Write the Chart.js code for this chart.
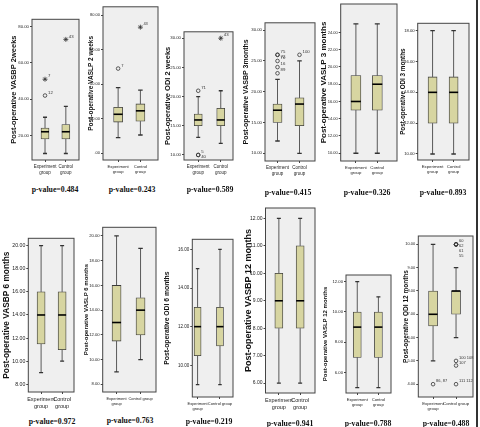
<!DOCTYPE html>
<html>
<head>
<meta charset="utf-8">
<script src="https://cdn.jsdelivr.net/npm/chart.js@4/dist/chart.umd.min.js"></script>
<style>
body { margin: 0; background: #fff; width: 480px; height: 427px; position: relative; overflow: hidden; }
.panel { position: absolute; }
.pv { position: absolute; transform: translate(-50%, -50%); white-space: nowrap; color: #111;
      font: bold 7.8px "Liberation Serif", "Times New Roman", serif; }
#edge { position: absolute; left: 476px; top: 0; width: 1.5px; height: 427px; background: #333; }
</style>
</head>
<body>
<div id="edge"></div>
<script>
// groups on the x axis of every panel
const groups = ['Experiment group', 'Control group'];

const measures = [
    'Post-operative VASBP 2weeks', 'Post-operative VASLP 2 weeks', 'Post-operative ODI 2 weeks',
    'Post-operative VASBP 3months', 'Post-operative VASLP 3 months', 'Post-operative ODI 3 months',
    'Post-operative VASBP 6 months', 'Post-operative VASLP 6 months', 'Post-operative ODI 6 months',
    'Post-operative VASBP 12 months', 'Post-operative VASLP 12 months', 'Post-operative ODI 12 months'
];

const pValues = ['0.484', '0.243', '0.589', '0.415', '0.326', '0.893',
                 '0.972', '0.763', '0.219', '0.941', '0.788', '0.488'];

const yTickValues = [
    [20, 40, 60, 80], [0, 20, 40, 60, 80], [10, 15, 20, 25, 30],
    [10, 15, 20, 25, 30], [10, 12, 14, 16, 18, 20, 22, 24], [10, 12, 14, 16, 18],
    [8, 10, 12, 14, 16, 18, 20], [8, 10, 12, 14, 16, 18, 20], [10, 12, 14, 16],
    [6, 7, 8, 9, 10, 11, 12], [6, 8, 10, 12], [4, 5, 6, 7, 8, 9, 10]
];

// [min, Q1, median, Q3, max]
const expBox = [
    [10, 18, 22, 24, 30], [9, 18, 22.5, 26.5, 38], [13, 15, 16, 17, 20],
    [12, 15, 17, 18, 22], [10, 15, 16, 19, 25], [10, 12, 14, 15, 18],
    [9, 11.5, 14, 16, 20], [9, 11.5, 13, 16, 20], [9, 10.5, 12, 13, 15],
    [6, 8, 9, 10, 12], [5, 7, 9, 10, 12], [5, 6.5, 7, 8, 10]
];
const ctlBox = [
    [10, 18, 22, 26, 36], [10.5, 18.5, 24.5, 28.5, 36.5], [12, 15, 16, 18, 21],
    [10, 14.5, 18, 19, 25], [10, 15, 18, 19, 25], [10, 12, 14, 15, 18],
    [10, 11, 14, 16, 20], [10, 12, 14, 15, 19], [9, 11, 12, 13, 16],
    [6, 8, 9, 11, 12], [5, 7, 9, 10, 11], [6, 7, 8, 8, 9]
];

// outliers: [value, marker, case number]
const expOutliers = [
    [[51, '*', '7'], [42, 'o', '12']], [[49, 'o', '7']], [[21, 'o', '71'], [10, 'o', '5'], [10, 'o', '40']],
    [[26, 'o', '75'], [26, 'o', '72'], [25, 'o', '70'], [24, 'o', '16'], [23, 'o', '89']], [], [],
    [], [], [],
    [], [], [[4, 'o', '86, 87']]
];
const ctlOutliers = [
    [[73, '*', '43']], [[73, '*', '43']], [[30, '*', '43']],
    [[26, 'o', '100']], [], [],
    [], [], [],
    [], [], [[10, 'o', '60'], [10, 'o', '62'], [10, 'o', '61'], [10, 'o', '55'],
             [5, 'o', '100 108'], [4.8, 'o', '107'], [4, 'o', '111 112']]
];

// frame left, top, right, bottom, title x, y min, y max, group positions, font sizes
const layout = [
    { L: 32, T: 19.3, R: 79, B: 160, tx: 13, y0: 6.4, y1: 84.1, r: [0.277, 0.72], ts: 7.5, fs: 4.3, ls: 4.5, wrap: true },
    { L: 103, T: 6.7, R: 157.5, B: 160, tx: 91, y0: -4, y1: 84.8, r: [0.275, 0.68], ts: 6.5, fs: 4, ls: 4.2, wrap: true },
    { L: 184, T: 31.7, R: 232.7, B: 159.3, tx: 167, y0: 9.14, y1: 31.1, r: [0.29, 0.75], ts: 7.5, fs: 4.3, ls: 4.5, wrap: true },
    { L: 265, T: 22.7, R: 315, B: 161, tx: 246, y0: 8.75, y1: 31.2, r: [0.25, 0.69], ts: 7, fs: 4.3, ls: 4.5, wrap: true },
    { L: 340.7, T: 4, R: 396.7, B: 161, tx: 324, y0: 9.1, y1: 27.3, r: [0.27, 0.65], ts: 8, fs: 4, ls: 4.3, wrap: true },
    { L: 417.7, T: 23.3, R: 468.3, B: 160, tx: 403, y0: 9.61, y1: 18.48, r: [0.29, 0.70], ts: 6.3, fs: 4.2, ls: 4.3, wrap: true },
    { L: 28.3, T: 238.3, R: 74, B: 391.7, tx: 7, y0: 7.33, y1: 20.64, r: [0.28, 0.74], ts: 8.3, fs: 5.2, ls: 5.5, wrap: true },
    { L: 102.7, T: 227.3, R: 156, B: 391.7, tx: 87, y0: 7.38, y1: 20.7, r: [0.26, 0.71], ts: 6, fs: 4.2, ls: 4, wrap: false },
    { L: 192.3, T: 239.3, R: 232.7, B: 396.7, tx: 167, y0: 8.36, y1: 16.52, r: [0.13, 0.68], ts: 6.8, fs: 4.5, ls: 4, wrap: false },
    { L: 265.5, T: 208, R: 315, B: 392.7, tx: 248, y0: 5.64, y1: 12.38, r: [0.27, 0.70], ts: 9, fs: 5, ls: 5.5, wrap: true },
    { L: 346, T: 275, R: 391, B: 392.7, tx: 326, y0: 4.65, y1: 12.44, r: [0.25, 0.72], ts: 6, fs: 4.2, ls: 4.2, wrap: true },
    { L: 418.3, T: 236, R: 473, B: 396.7, tx: 406, y0: 3.45, y1: 10.36, r: [0.27, 0.69], ts: 6.5, fs: 4, ls: 4.3, wrap: false }
];

const pvPos = [[55, 189], [132, 189], [210, 189], [288, 192], [367, 192], [443, 192],
               [52, 421], [130, 420], [209, 421], [290, 423], [368, 423], [446, 423]];

const sansFont = "'Liberation Sans', Arial, sans-serif";
const narrowFont = "'Liberation Sans Narrow', 'Arial Narrow', 'Liberation Sans', sans-serif";

function fmtTick(v) {
    let s = Number(v).toFixed(2);
    return s.replace(/^0\./, '.').replace(/^-0\./, '-.');
}

const boxPlot = {
    id: 'boxPlot',
    beforeDraw(chart) {
        const {ctx, chartArea: a} = chart;
        ctx.save();
        ctx.fillStyle = '#efefef';
        ctx.fillRect(a.left, a.top, a.right - a.left, a.bottom - a.top);
        ctx.restore();
    },
    beforeDatasetsDraw(chart, args, opts) {
        const {ctx, scales: {x, y}} = chart;
        ctx.save();
        ctx.strokeStyle = '#333';
        opts.stats.forEach((s, i) => {
            const cx = x.getPixelForValue(i + 1);
            ctx.lineWidth = 0.8;
            ctx.beginPath();
            ctx.moveTo(cx, y.getPixelForValue(s[0]));
            ctx.lineTo(cx, y.getPixelForValue(s[1]));
            ctx.moveTo(cx, y.getPixelForValue(s[3]));
            ctx.lineTo(cx, y.getPixelForValue(s[4]));
            ctx.stroke();
            ctx.lineWidth = 1.3;
            ctx.beginPath();
            [s[0], s[4]].forEach(v => {
                const py = y.getPixelForValue(v);
                ctx.moveTo(cx - opts.cap, py);
                ctx.lineTo(cx + opts.cap, py);
            });
            ctx.stroke();
        });
        ctx.restore();
    },
    afterDatasetsDraw(chart, args, opts) {
        const {ctx, scales: {x, y}} = chart;
        ctx.save();
        // medians
        ctx.strokeStyle = '#000';
        ctx.lineWidth = 1.6;
        opts.stats.forEach((s, i) => {
            const cx = x.getPixelForValue(i + 1);
            const py = y.getPixelForValue(s[2]);
            ctx.beginPath();
            ctx.moveTo(cx - opts.half, py);
            ctx.lineTo(cx + opts.half, py);
            ctx.stroke();
        });
        // case labels next to outliers
        ctx.fillStyle = '#333';
        ctx.font = opts.fs + 'px ' + narrowFont;
        ctx.textBaseline = 'middle';
        opts.outliers.forEach((list, i) => {
            const cx = x.getPixelForValue(i + 1);
            const seen = {};
            list.forEach(o => {
                const n = seen[o[0]] || 0;
                seen[o[0]] = n + 1;
                ctx.fillText(o[2], cx + 3, y.getPixelForValue(o[0]) - 3 + n * 5);
            });
        });
        // plot frame
        const a = chart.chartArea;
        ctx.strokeStyle = '#444';
        ctx.lineWidth = 1;
        ctx.strokeRect(a.left, a.top, a.right - a.left, a.bottom - a.top);
        ctx.restore();
    }
};

function makePanel(i) {
    const p = layout[i];
    const xh = 20;
    const padR = 8;
    const left = Math.round(p.tx - 0.6 * p.ts);
    const top = Math.max(0, Math.round(p.T) - 5);
    const width = Math.ceil(p.R - left + padR);
    const height = Math.ceil(p.B - top + xh);
    const span = 1 / (p.r[1] - p.r[0]);
    const xmin = 1 - p.r[0] * span;
    const bw = Math.round(0.17 * (p.R - p.L));

    const xLabels = [groups[0].split(' '), p.wrap ? groups[1].split(' ') : groups[1]];

    const div = document.createElement('div');
    div.className = 'panel';
    div.style.left = left + 'px';
    div.style.top = top + 'px';
    const cv = document.createElement('canvas');
    cv.width = width;
    cv.height = height;
    div.appendChild(cv);
    document.body.appendChild(div);

    const e = expBox[i], c = ctlBox[i];
    const outPts = [];
    expOutliers[i].forEach(o => outPts.push({x: 1, y: o[0], s: o[1]}));
    ctlOutliers[i].forEach(o => outPts.push({x: 2, y: o[0], s: o[1]}));

    new Chart(cv, {
        type: 'bar',
        data: {
            datasets: [{
                data: [{x: 1, y: [e[1], e[3]]}, {x: 2, y: [c[1], c[3]]}],
                backgroundColor: '#d7d5a1',
                borderColor: '#3a3a3a',
                borderWidth: 0.8,
                borderSkipped: false,
                barThickness: bw
            }, {
                type: 'scatter',
                data: outPts,
                pointStyle: outPts.map(o => o.s === '*' ? 'star' : 'circle'),
                pointRadius: outPts.map(o => o.s === '*' ? 2.5 : 1.8),
                borderColor: '#333',
                backgroundColor: 'rgba(0,0,0,0)',
                borderWidth: 0.8
            }]
        },
        options: {
            responsive: false,
            animation: false,
            layout: {padding: {top: p.T - top, right: padR, left: 0, bottom: 0}},
            plugins: {
                legend: {display: false},
                tooltip: {enabled: false},
                boxPlot: {
                    stats: [e, c],
                    outliers: [expOutliers[i], ctlOutliers[i]],
                    cap: bw * 0.25,
                    half: bw / 2,
                    fs: p.fs
                }
            },
            scales: {
                x: {
                    type: 'linear',
                    bounds: 'data',
                    offset: false,
                    min: xmin,
                    max: xmin + span,
                    afterBuildTicks: s => { s.ticks = [{value: 1}, {value: 2}]; },
                    afterFit: s => { s.height = xh; },
                    ticks: {
                        callback: v => xLabels[v - 1],
                        font: {size: p.ls, family: narrowFont, lineHeight: 1.25},
                        color: '#222',
                        padding: 2,
                        maxRotation: 0,
                        autoSkip: false
                    },
                    grid: {drawOnChartArea: false, offset: false, tickLength: 2, color: '#444'},
                    border: {display: false}
                },
                y: {
                    bounds: 'data',
                    min: p.y0,
                    max: p.y1,
                    afterBuildTicks: s => { s.ticks = yTickValues[i].map(v => ({value: v})); },
                    afterFit: s => { s.width = p.L - left; },
                    ticks: {
                        callback: v => fmtTick(v),
                        font: {size: p.fs, family: narrowFont},
                        color: '#222',
                        padding: 1
                    },
                    grid: {drawOnChartArea: false, tickLength: 2, color: '#444'},
                    border: {display: false},
                    title: {
                        display: true,
                        text: measures[i],
                        font: {size: p.ts, weight: 'bold', family: sansFont},
                        color: '#111',
                        padding: 0
                    }
                }
            }
        },
        plugins: [boxPlot]
    });

    const pv = document.createElement('div');
    pv.className = 'pv';
    pv.style.left = pvPos[i][0] + 'px';
    pv.style.top = pvPos[i][1] + 'px';
    pv.textContent = 'p-value=' + pValues[i];
    document.body.appendChild(pv);
}

for (let i = 0; i < measures.length; i++) {
    makePanel(i);
}
</script>
</body>
</html>
